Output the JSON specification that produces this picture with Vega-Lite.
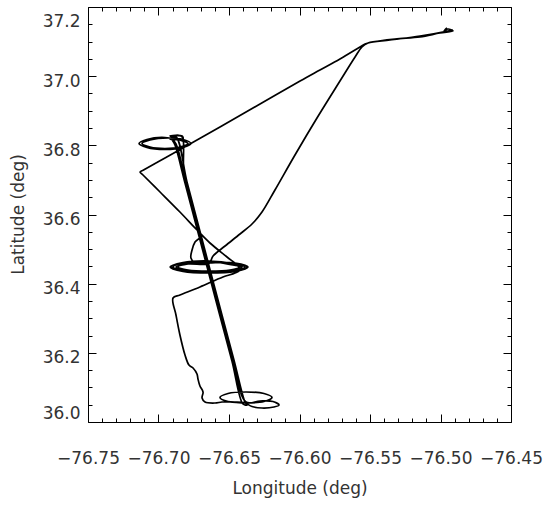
{
"$schema":"https://vega.github.io/schema/vega-lite/v6.json",
"width":423,"height":415,
"autosize":{"type":"none"},
"padding":{"left":88,"top":7,"right":36,"bottom":84},
"config":{"view":{"stroke":null},"axis":{"grid":false,"domainColor":"#000","domainWidth":1,"tickColor":"#000","tickWidth":1,"labelFont":"DejaVu Sans","titleFont":"DejaVu Sans","labelFontSize":17,"titleFontSize":17,"labelColor":"#333","titleColor":"#333","titleFontWeight":"normal"}},
"data":{"values":[
{"i":1,"lon":-76.4954,"lat":37.1393},{"i":2,"lon":-76.4975,"lat":37.1306},{"i":3,"lon":-76.4947,"lat":37.1364},{"i":4,"lon":-76.4911,"lat":37.1306},{"i":5,"lon":-76.5004,"lat":37.1248},{"i":6,"lon":-76.5145,"lat":37.1133},{"i":7,"lon":-76.5323,"lat":37.1075},{"i":8,"lon":-76.5486,"lat":37.0988},{"i":9,"lon":-76.5535,"lat":37.0930},{"i":10,"lon":-76.5571,"lat":37.0843},
{"i":11,"lon":-76.5713,"lat":37.0497},{"i":12,"lon":-76.5855,"lat":37.0178},{"i":13,"lon":-76.5996,"lat":36.9860},{"i":14,"lon":-76.6280,"lat":36.9195},{"i":15,"lon":-76.6564,"lat":36.8530},{"i":16,"lon":-76.6777,"lat":36.8039},{"i":17,"lon":-76.6954,"lat":36.7634},{"i":17.5,"lon":-76.7103,"lat":36.7293},{"i":18,"lon":-76.7131,"lat":36.7229},{"i":18.5,"lon":-76.7110,"lat":36.7142},
{"i":19,"lon":-76.6989,"lat":36.6651},{"i":20,"lon":-76.6848,"lat":36.6072},{"i":21,"lon":-76.6727,"lat":36.5552},{"i":22,"lon":-76.6635,"lat":36.5176},{"i":23,"lon":-76.6514,"lat":36.4771},{"i":24,"lon":-76.6436,"lat":36.4511},{"i":25,"lon":-76.6422,"lat":36.4395},{"i":26,"lon":-76.6457,"lat":36.4308},{"i":27,"lon":-76.6543,"lat":36.4193},{"i":28,"lon":-76.6706,"lat":36.3904},{"i":29,"lon":-76.6848,"lat":36.3672},{"i":30,"lon":-76.6897,"lat":36.3586},
{"i":31,"lon":-76.6876,"lat":36.3094},{"i":32,"lon":-76.6848,"lat":36.2516},{"i":33,"lon":-76.6812,"lat":36.1937},{"i":34,"lon":-76.6784,"lat":36.1648},{"i":35,"lon":-76.6755,"lat":36.1561},{"i":36,"lon":-76.6727,"lat":36.1388},{"i":37,"lon":-76.6720,"lat":36.1243},{"i":38,"lon":-76.6706,"lat":36.1041},{"i":39,"lon":-76.6684,"lat":36.0867},{"i":40,"lon":-76.6691,"lat":36.0694},{"i":41,"lon":-76.6670,"lat":36.0578},{"i":42,"lon":-76.6599,"lat":36.0549},{"i":43,"lon":-76.6550,"lat":36.0578},
{"i":44,"lon":-76.6493,"lat":36.0578},{"i":45,"lon":-76.6379,"lat":36.0549},{"i":46,"lon":-76.6252,"lat":36.0593},{"i":47,"lon":-76.6195,"lat":36.0708},{"i":48,"lon":-76.6252,"lat":36.0824},{"i":49,"lon":-76.6379,"lat":36.0867},{"i":50,"lon":-76.6507,"lat":36.0824},{"i":51,"lon":-76.6564,"lat":36.0708},{"i":52,"lon":-76.6507,"lat":36.0593},{"i":53,"lon":-76.6394,"lat":36.0564},
{"i":54,"lon":-76.6337,"lat":36.0448},{"i":55,"lon":-76.6266,"lat":36.0405},{"i":56,"lon":-76.6181,"lat":36.0434},{"i":57,"lon":-76.6145,"lat":36.0492},{"i":58,"lon":-76.6188,"lat":36.0593},{"i":59,"lon":-76.6280,"lat":36.0607},{"i":60,"lon":-76.6379,"lat":36.0578},
{"i":61,"lon":-76.6472,"lat":36.1793},{"i":62,"lon":-76.6585,"lat":36.3528},{"i":63,"lon":-76.6706,"lat":36.5407},{"i":64,"lon":-76.6805,"lat":36.6940},{"i":65,"lon":-76.6876,"lat":36.8039},{"i":66,"lon":-76.6904,"lat":36.8183},
{"i":67,"lon":-76.6954,"lat":36.8227},{"i":68,"lon":-76.7082,"lat":36.8169},{"i":69,"lon":-76.7138,"lat":36.8053},{"i":70,"lon":-76.7082,"lat":36.7937},{"i":71,"lon":-76.6954,"lat":36.7880},{"i":72,"lon":-76.6826,"lat":36.7937},{"i":73,"lon":-76.6770,"lat":36.8053},{"i":74,"lon":-76.6826,"lat":36.8169},{"i":75,"lon":-76.6933,"lat":36.8212},
{"i":76,"lon":-76.7060,"lat":36.8154},{"i":77,"lon":-76.7117,"lat":36.8053},{"i":78,"lon":-76.7060,"lat":36.7952},{"i":79,"lon":-76.6954,"lat":36.7909},{"i":80,"lon":-76.6848,"lat":36.7952},{"i":81,"lon":-76.6791,"lat":36.8053},{"i":82,"lon":-76.6848,"lat":36.8154},{"i":83,"lon":-76.6876,"lat":36.8212},
{"i":84,"lon":-76.6918,"lat":36.8270},{"i":85,"lon":-76.6833,"lat":36.8270},{"i":86,"lon":-76.6826,"lat":36.8183},{"i":87,"lon":-76.6918,"lat":36.8183},{"i":88,"lon":-76.6876,"lat":36.8241},
{"i":89,"lon":-76.6798,"lat":36.6940},{"i":90,"lon":-76.6699,"lat":36.5407},{"i":91,"lon":-76.6578,"lat":36.3528},{"i":92,"lon":-76.6465,"lat":36.1793},{"i":93,"lon":-76.6387,"lat":36.0578},{"i":94,"lon":-76.6372,"lat":36.0492},{"i":95,"lon":-76.6401,"lat":36.0520},
{"i":96,"lon":-76.6479,"lat":36.1764},{"i":97,"lon":-76.6592,"lat":36.3499},{"i":98,"lon":-76.6713,"lat":36.5378},{"i":99,"lon":-76.6812,"lat":36.6911},{"i":100,"lon":-76.6883,"lat":36.8010},{"i":101,"lon":-76.6911,"lat":36.8241},{"i":102,"lon":-76.6840,"lat":36.8270},{"i":103,"lon":-76.6826,"lat":36.8183},
{"i":104,"lon":-76.6819,"lat":36.7142},{"i":105,"lon":-76.6762,"lat":36.6275},{"i":106,"lon":-76.6706,"lat":36.5349},{"i":107,"lon":-76.6741,"lat":36.5205},{"i":108,"lon":-76.6762,"lat":36.4974},{"i":109,"lon":-76.6770,"lat":36.4742},{"i":110,"lon":-76.6741,"lat":36.4598},{"i":111,"lon":-76.6649,"lat":36.4612},
{"i":112,"lon":-76.6457,"lat":36.4598},{"i":113,"lon":-76.6365,"lat":36.4482},{"i":114,"lon":-76.6457,"lat":36.4352},{"i":115,"lon":-76.6642,"lat":36.4308},{"i":116,"lon":-76.6826,"lat":36.4352},{"i":117,"lon":-76.6918,"lat":36.4482},{"i":118,"lon":-76.6826,"lat":36.4612},{"i":119,"lon":-76.6642,"lat":36.4655},
{"i":120,"lon":-76.6472,"lat":36.4583},{"i":121,"lon":-76.6387,"lat":36.4482},{"i":122,"lon":-76.6472,"lat":36.4366},{"i":123,"lon":-76.6642,"lat":36.4323},{"i":124,"lon":-76.6812,"lat":36.4366},{"i":125,"lon":-76.6897,"lat":36.4482},{"i":126,"lon":-76.6812,"lat":36.4598},{"i":127,"lon":-76.6642,"lat":36.4627},
{"i":128,"lon":-76.6486,"lat":36.4569},{"i":129,"lon":-76.6408,"lat":36.4482},{"i":130,"lon":-76.6486,"lat":36.4381},{"i":131,"lon":-76.6642,"lat":36.4352},{"i":132,"lon":-76.6798,"lat":36.4381},{"i":133,"lon":-76.6876,"lat":36.4482},{"i":134,"lon":-76.6798,"lat":36.4569},{"i":135,"lon":-76.6642,"lat":36.4598},
{"i":136,"lon":-76.6465,"lat":36.4598},{"i":137,"lon":-76.6372,"lat":36.4482},{"i":138,"lon":-76.6465,"lat":36.4366},{"i":139,"lon":-76.6642,"lat":36.4308},{"i":140,"lon":-76.6819,"lat":36.4366},{"i":141,"lon":-76.6911,"lat":36.4482},{"i":142,"lon":-76.6819,"lat":36.4598},{"i":143,"lon":-76.6642,"lat":36.4641},
{"i":144,"lon":-76.6493,"lat":36.4554},{"i":145,"lon":-76.6422,"lat":36.4482},{"i":146,"lon":-76.6493,"lat":36.4395},{"i":147,"lon":-76.6642,"lat":36.4366},{"i":148,"lon":-76.6791,"lat":36.4395},{"i":149,"lon":-76.6862,"lat":36.4482},{"i":150,"lon":-76.6791,"lat":36.4569},{"i":151,"lon":-76.6642,"lat":36.4583},
{"i":152,"lon":-76.6613,"lat":36.4800},{"i":153,"lon":-76.6528,"lat":36.5089},{"i":154,"lon":-76.6422,"lat":36.5436},{"i":155,"lon":-76.6337,"lat":36.5725},{"i":156,"lon":-76.6266,"lat":36.6072},{"i":157,"lon":-76.6174,"lat":36.6709},{"i":158,"lon":-76.6032,"lat":36.7721},{"i":159,"lon":-76.5876,"lat":36.8790},{"i":160,"lon":-76.5713,"lat":36.9860},{"i":161,"lon":-76.5606,"lat":37.0554},{"i":162,"lon":-76.5557,"lat":37.0843},{"i":163,"lon":-76.5514,"lat":37.0959},{"i":164,"lon":-76.5358,"lat":37.1046},{"i":165,"lon":-76.5145,"lat":37.1162},{"i":166,"lon":-76.4911,"lat":37.1335}
]},
"layer":[
{"mark":{"type":"line","color":"#000","strokeWidth":1.7,"interpolate":"catmull-rom"},
 "encoding":{
  "x":{"field":"lon","type":"quantitative","scale":{"domain":[-76.75,-76.45],"nice":false,"zero":false},
   "axis":{"orient":"bottom","title":"Longitude (deg)","format":".2f",
    "values":[-76.75,-76.74,-76.73,-76.72,-76.71,-76.70,-76.69,-76.68,-76.67,-76.66,-76.65,-76.64,-76.63,-76.62,-76.61,-76.60,-76.59,-76.58,-76.57,-76.56,-76.55,-76.54,-76.53,-76.52,-76.51,-76.50,-76.49,-76.48,-76.47,-76.46,-76.45],
    "labelExpr":"abs(datum.value*20 - round(datum.value*20)) < 0.01 ? datum.label : ''",
    "tickSize":{"condition":{"test":"abs(datum.value*20 - round(datum.value*20)) < 0.01","value":-8},"value":-4},
    "labelPadding":36,"labelFlush":false,"labelOverlap":false,
    "titleY":66,"titleBaseline":"middle"}},
  "y":{"field":"lat","type":"quantitative","scale":{"domain":[36.0,37.2],"nice":false,"zero":false},
   "axis":{"orient":"left","title":"Latitude (deg)","format":".1f",
    "values":[36.0,36.05,36.1,36.15,36.2,36.25,36.3,36.35,36.4,36.45,36.5,36.55,36.6,36.65,36.7,36.75,36.8,36.85,36.9,36.95,37.0,37.05,37.1,37.15,37.2],
    "labelExpr":"abs(datum.value*5 - round(datum.value*5)) < 0.01 ? datum.label : ''",
    "tickSize":{"condition":{"test":"abs(datum.value*5 - round(datum.value*5)) < 0.01","value":-8},"value":-4},
    "labelOffset":{"condition":[{"test":"datum.value > 37.1","value":14},{"test":"datum.value < 36.05","value":-9}],"value":5},
    "labelPadding":16,"labelFlush":false,"labelOverlap":false,
    "titleX":-70,"titleY":207,"titleBaseline":"middle","titleAngle":270}},
  "order":{"field":"i","type":"quantitative"}
 }},
{"mark":{"type":"line","strokeOpacity":0},
 "encoding":{
  "x":{"field":"lon","type":"quantitative",
   "axis":{"orient":"top","title":null,"labels":false,
    "values":[-76.75,-76.74,-76.73,-76.72,-76.71,-76.70,-76.69,-76.68,-76.67,-76.66,-76.65,-76.64,-76.63,-76.62,-76.61,-76.60,-76.59,-76.58,-76.57,-76.56,-76.55,-76.54,-76.53,-76.52,-76.51,-76.50,-76.49,-76.48,-76.47,-76.46,-76.45],
    "tickSize":{"condition":{"test":"abs(datum.value*20 - round(datum.value*20)) < 0.01","value":-8},"value":-4}}},
  "y":{"field":"lat","type":"quantitative",
   "axis":{"orient":"right","title":null,"labels":false,
    "values":[36.0,36.05,36.1,36.15,36.2,36.25,36.3,36.35,36.4,36.45,36.5,36.55,36.6,36.65,36.7,36.75,36.8,36.85,36.9,36.95,37.0,37.05,37.1,37.15,37.2],
    "tickSize":{"condition":{"test":"abs(datum.value*5 - round(datum.value*5)) < 0.01","value":-8},"value":-4}}},
  "order":{"field":"i","type":"quantitative"}
 }}
],
"resolve":{"axis":{"x":"independent","y":"independent"}}
}
